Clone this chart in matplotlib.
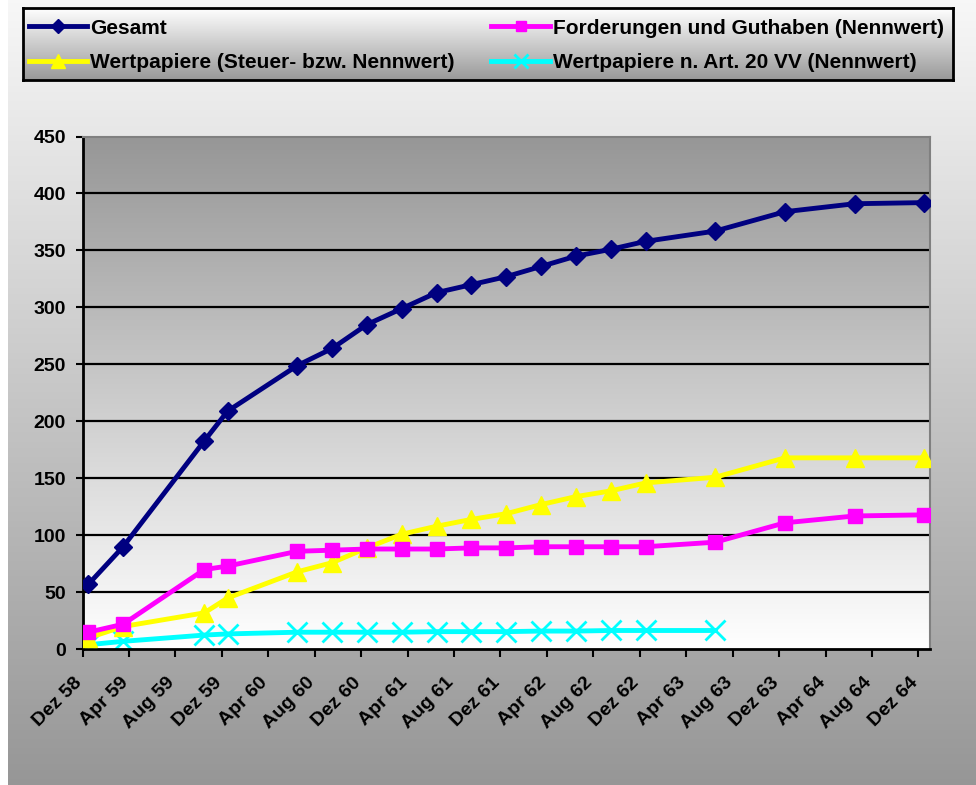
import numpy as np
import matplotlib
matplotlib.use("Agg")
import matplotlib.pyplot as plt
from matplotlib.transforms import ScaledTranslation

plt.rcParams['font.family'] = ['Liberation Sans', 'DejaVu Sans']

# ---- data ----
dates = ["1958-12", "1959-03", "1959-10", "1959-12", "1960-06", "1960-09", "1960-12",
         "1961-03", "1961-06", "1961-09", "1961-12", "1962-03", "1962-06", "1962-09",
         "1962-12", "1963-06", "1963-12", "1964-06", "1964-12"]
gesamt = [57, 90, 183, 209, 249, 264, 285, 299, 313, 320, 327, 336, 345, 351, 358, 367, 384, 391, 392]
forderungen = [15, 22, 70, 73, 86, 87, 88, 88, 88, 89, 89, 90, 90, 90, 90, 94, 111, 117, 118]
wertpapiere = [10, 20, 32, 45, 68, 76, 89, 101, 108, 114, 119, 127, 134, 139, 146, 151, 168, 168, 168]
wp_art20 = [4, 7, 12.5, 13.5, 15, 15, 15, 15, 15.5, 15.5, 15.5, 16, 16, 16.5, 16.5, 16.5]
tick_labels = ["Dez 58", "Apr 59", "Aug 59", "Dez 59", "Apr 60", "Aug 60", "Dez 60",
               "Apr 61", "Aug 61", "Dez 61", "Apr 62", "Aug 62", "Dez 62", "Apr 63",
               "Aug 63", "Dez 63", "Apr 64", "Aug 64", "Dez 64"]
series_names = ["Gesamt", "Forderungen und Guthaben (Nennwert)",
                "Wertpapiere (Steuer- bzw. Nennwert)", "Wertpapiere n. Art. 20 VV (Nennwert)"]


def month_index(s):
    y, m = s.split("-")
    return (int(y) - 1958) * 12 + int(m) - 12


x = np.array([month_index(d) for d in dates]) + 0.5  # centred in month bin

W, H = 976, 785
fig = plt.figure(figsize=(W / 100, H / 100), dpi=100)
fig.patch.set_facecolor("white")

# chart-area background gradient
bg = fig.add_axes([8 / W, 0, 1 - 8 / W, 1], zorder=-10)
grad = np.linspace(0.97, 0.59, 256).reshape(-1, 1)
bg.imshow(np.dstack([grad] * 3), aspect="auto", extent=[0, 1, 0, 1], origin="upper")
bg.set_axis_off()

# plot area
L, R, T, B = 82.5, 930, 136.5, 649.3
ax = fig.add_axes([L / W, 1 - B / H, (R - L) / W, (B - T) / H])
pg = np.linspace(0.59, 1.0, 256).reshape(-1, 1)
ax.imshow(np.dstack([pg] * 3), aspect="auto", extent=[0, 73, 0, 450], origin="upper", zorder=0)

ax.set_xlim(0, 73)
ax.set_ylim(0, 450)
ax.set_yticks(np.arange(0, 451, 50))
ax.set_xticks(np.arange(0, 73, 4))
for yv in range(50, 450, 50):
    ax.axhline(yv, color="black", lw=1.6, zorder=1)

ax.plot(x, gesamt, color="#000080", lw=3.5, marker="D", ms=9.5, zorder=5, label=series_names[0])
ax.plot(x, forderungen, color="#FF00FF", lw=3.5, marker="s", ms=10, zorder=4, label=series_names[1])
ax.plot(x, wertpapiere, color="#FFFF00", lw=3.5, marker="^", ms=13, zorder=3, label=series_names[2])
ax.plot(x[:len(wp_art20)], wp_art20, color="#00FFFF", lw=3.5, marker="x", ms=14, mew=2, zorder=2,
        label=series_names[3])

for s in ["top", "right"]:
    ax.spines[s].set_color("#808080")
    ax.spines[s].set_linewidth(1.5)
for s in ["left", "bottom"]:
    ax.spines[s].set_color("black")
    ax.spines[s].set_linewidth(2)

ax.tick_params(axis="y", direction="out", length=5, width=1.5, pad=7, labelsize=14)
ax.tick_params(axis="x", direction="out", length=6, width=1.5, pad=12)
for lab in ax.get_yticklabels():
    lab.set_fontweight("bold")
ax.set_xticklabels(tick_labels, rotation=45, ha="right", va="top", rotation_mode="anchor",
                   fontsize=14, fontweight="bold")
shift = ScaledTranslation(-9 / 100, 0, fig.dpi_scale_trans)
for lab in ax.get_xticklabels():
    lab.set_transform(lab.get_transform() + shift)

# legend box with gradient
lx0, lx1, ly0, ly1 = 23, 953, 8, 80
lw_, lh_ = lx1 - lx0, ly1 - ly0
lax = fig.add_axes([lx0 / W, 1 - ly1 / H, lw_ / W, lh_ / H], zorder=5)
lg = np.linspace(1.0, 0.6, 256).reshape(-1, 1)
lax.imshow(np.dstack([lg] * 3), aspect="auto", extent=[0, 1, 0, 1], origin="upper")
lax.set_xlim(0, 1)
lax.set_ylim(0, 1)
lax.set_xticks([])
lax.set_yticks([])
for s in lax.spines.values():
    s.set_color("black")
    s.set_linewidth(2)

handles, labels = ax.get_legend_handles_labels()
order = [0, 2, 1, 3]
leg = lax.legend([handles[i] for i in order], [labels[i] for i in order], ncol=2,
                 loc="center left", bbox_to_anchor=((29 - lx0) / lw_, 0.48),
                 frameon=False, prop={"size": 15, "weight": "bold"}, handlelength=2.8,
                 handletextpad=0.15, columnspacing=1.75, labelspacing=0.75, markerscale=0.75,
                 borderaxespad=0.0, borderpad=0.0)

fig.savefig("out.png", dpi=100)
